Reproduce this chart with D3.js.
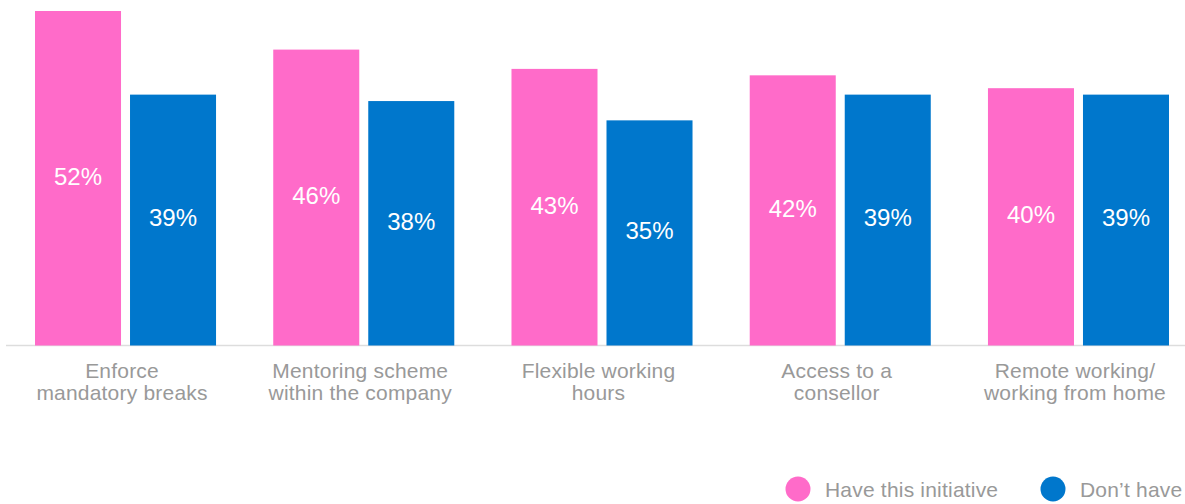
<!DOCTYPE html>
<html><head><meta charset="utf-8">
<script src="https://cdn.jsdelivr.net/npm/d3@7"></script>
<style>body{margin:0;background:#fff;}svg{display:block;font-family:"Liberation Sans",Arial,sans-serif;}</style>
</head><body><svg id="c" width="1185" height="504"></svg>
<script>
const categories = [["Enforce","mandatory breaks"],["Mentoring scheme","within the company"],["Flexible working","hours"],["Access to a","consellor"],["Remote working/","working from home"]];
const seriesNames = ["Have this initiative","Don\u2019t have"];
const haveValues = [52,46,43,42,40];
const dontValues = [39,38,35,39,39];
const colors = ["#ff6bc9","#0077cc"];

const svg = d3.select("#c");
const keys = categories.map((c,i)=>i);
const x0 = d3.scaleBand().domain(keys).range([6.4,1197.6]).padding(0);
const x1 = d3.scaleBand().domain([0,1]).range([0,x0.bandwidth()]).paddingInner(0.0947).paddingOuter(0.301);
const y = d3.scaleLinear().domain([0,52]).range([345.5,11]);

svg.append("line").attr("x1",6).attr("x2",1185).attr("y1",345.5).attr("y2",345.5).attr("stroke","#dddddd").attr("stroke-width",1.5);

const data = keys.map(i=>[haveValues[i],dontValues[i]]);
const g = svg.selectAll("g.grp").data(data).join("g").attr("transform",(d,i)=>`translate(${x0(i)},0)`);
g.selectAll("rect").data(d=>d).join("rect")
  .attr("x",(d,j)=>x1(j)).attr("width",x1.bandwidth())
  .attr("y",d=>y(d)).attr("height",d=>y(0)-y(d)).attr("fill",(d,j)=>colors[j]);
g.selectAll("text.v").data(d=>d).join("text").attr("class","v")
  .attr("x",(d,j)=>x1(j)+x1.bandwidth()/2).attr("y",d=>(y(d)+y(0))/2-2)
  .attr("dy","0.35em").attr("text-anchor","middle").attr("fill","#fff")
  .attr("font-size",24).text(d=>d+"%");

const lab = svg.selectAll("text.cat").data(categories).join("text").attr("class","cat")
  .attr("text-anchor","middle").attr("fill","#999").attr("font-size",21).attr("letter-spacing",0.2)
  .attr("transform",(d,i)=>`translate(${x0(i)+x0.bandwidth()/2-3.5},378)`);
lab.selectAll("tspan").data(d=>d).join("tspan").attr("x",0).attr("y",(d,k)=>k*22).text(d=>d);

const legX = [798,1053];
const lg = svg.selectAll("g.leg").data(seriesNames).join("g").attr("class","leg").attr("transform",(d,i)=>`translate(${legX[i]},489)`);
lg.append("circle").attr("r",12.5).attr("fill",(d,i)=>colors[i]);
lg.append("text").attr("x",27).attr("y",8).attr("fill","#999").attr("font-size",21).attr("letter-spacing",0.2).text(d=>d);
</script></body></html>
